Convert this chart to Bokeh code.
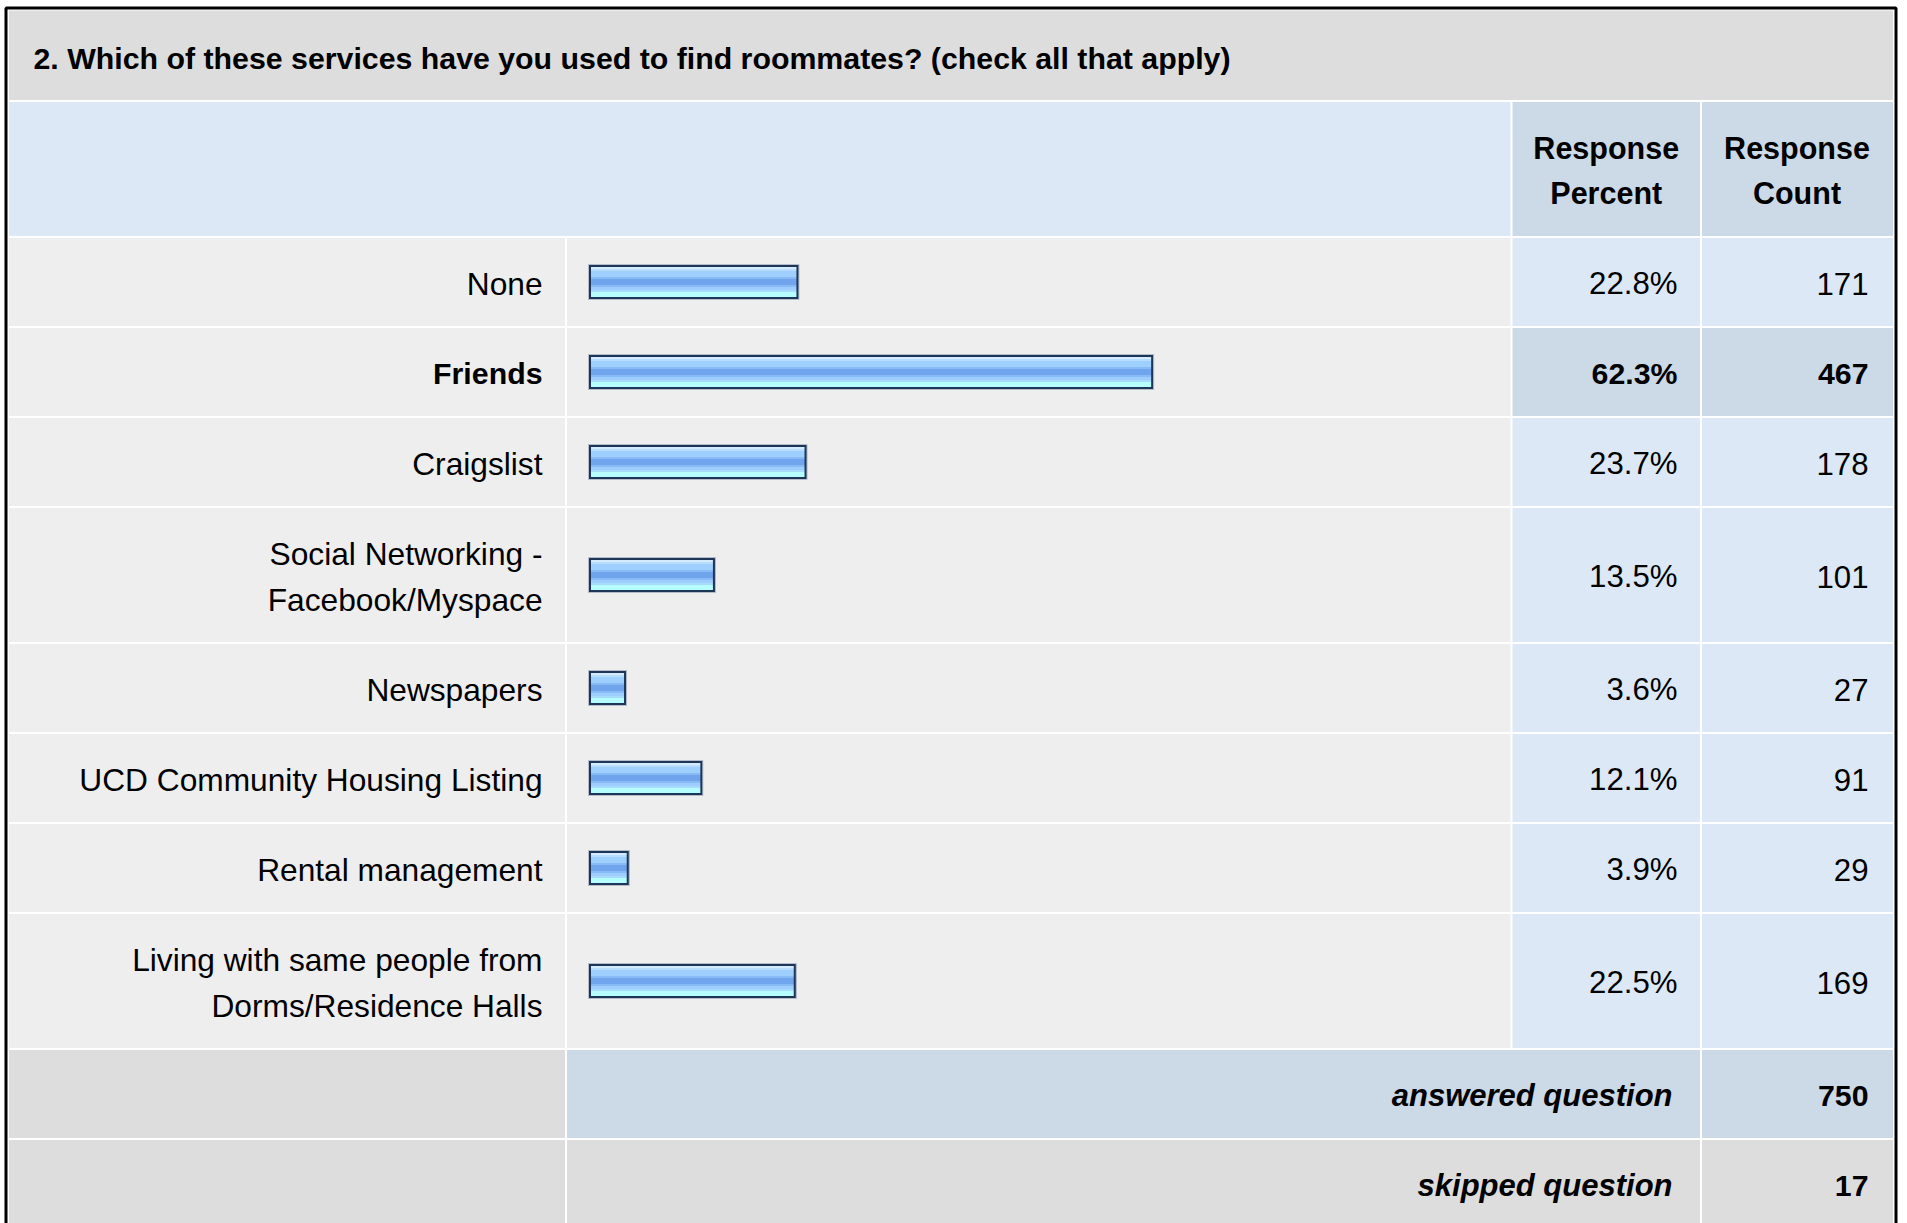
from bokeh.plotting import figure
from bokeh.models import Range1d, ColumnDataSource
from bokeh.transform import dodge
from bokeh.core.properties import value
from bokeh.embed import file_html
from bokeh.resources import INLINE

# ---------------- data ----------------
title_text = "2. Which of these services have you used to find roommates? (check all that apply)"
header_labels = ["Response\nPercent", "Response\nCount"]
categories = [
    "None",
    "Friends",
    "Craigslist",
    "Social Networking -\nFacebook/Myspace",
    "Newspapers",
    "UCD Community Housing Listing",
    "Rental management",
    "Living with same people from\nDorms/Residence Halls",
]
percents = [22.8, 62.3, 23.7, 13.5, 3.6, 12.1, 3.9, 22.5]
counts = [171, 467, 178, 101, 27, 91, 29, 169]
summary_labels = ["answered question", "skipped question"]
summary_counts = [750, 17]

# ---------------- style ----------------
FONT = "Liberation Sans"
C_TITLE = "#dddddd"
C_HEAD = "#dce8f5"
C_HEAD2 = "#ccd9e6"
C_LABEL = "#eeeeee"
C_VAL = "#dce8f5"
C_VAL_HI = "#ccd9e6"
C_SUM = "#dddddd"

W, H = 1899, 1223
p = figure(width=W, height=H, x_range=Range1d(0, W), y_range=Range1d(H, 0),
           x_axis_type=None, y_axis_type=None, output_backend="svg",
           toolbar_location=None, min_border=0)
p.grid.visible = False
p.outline_line_color = None
p.background_fill_color = "white"
p.border_fill_color = "white"

PX_PER_PCT = 8.98
BAR_X0 = 588.0
p.extra_x_ranges = {"pct": Range1d((0 - BAR_X0) / PX_PER_PCT, (W - BAR_X0) / PX_PER_PCT)}

# layout
XL, XS1, XS2, XS3, XR = 8.5, 565.5, 1511, 1700.5, 1892.5
TITLE_TOP, TITLE_BOT = 10, 99.5
HEAD_TOP, HEAD_BOT = 101.5, 235.5
LINE_GAP = 46
MID_OFF = 1.5

n_lines = [len(c.split("\n")) for c in categories]
row_h = [136 if n > 1 else 90 for n in n_lines]
edges = [236.5]
for h in row_h:
    edges.append(edges[-1] + h)
sum_edges = [edges[-1]]
for _ in summary_labels:
    sum_edges.append(sum_edges[-1] + 90)
centers = [(edges[i] + edges[i + 1]) / 2 for i in range(len(categories))]
sum_centers = [(sum_edges[i] + sum_edges[i + 1]) / 2 for i in range(len(summary_labels))]
imax = percents.index(max(percents))

# ---------------- cells ----------------
L, R, T, B, C = [], [], [], [], []
def cell(l, r, t, b, c):
    L.append(l); R.append(r); T.append(t); B.append(b); C.append(c)

cell(XL, XR, TITLE_TOP, TITLE_BOT, C_TITLE)
cell(XL, XS2 - 1, HEAD_TOP, HEAD_BOT, C_HEAD)
cell(XS2 + 1, XS3 - 1, HEAD_TOP, HEAD_BOT, C_HEAD2)
cell(XS3 + 1, XR, HEAD_TOP, HEAD_BOT, C_HEAD2)
for i in range(len(categories)):
    t, b = edges[i] + 1, edges[i + 1] - 1
    vc = C_VAL_HI if i == imax else C_VAL
    cell(XL, XS1 - 1, t, b, C_LABEL)
    cell(XS1 + 1, XS2 - 1, t, b, C_LABEL)
    cell(XS2 + 1, XS3 - 1, t, b, vc)
    cell(XS3 + 1, XR, t, b, vc)
for i in range(len(summary_labels)):
    t, b = sum_edges[i] + 1, sum_edges[i + 1] - 1
    mc = C_HEAD2 if i == 0 else C_SUM
    cell(XL, XS1 - 1, t, b, C_SUM)
    cell(XS1 + 1, XS3 - 1, t, b, mc)
    cell(XS3 + 1, XR, t, b, mc)

p.quad(left=L, right=R, top=T, bottom=B, fill_color=C, line_color=None)

# outer frame
p.quad(left=[5.5], right=[1895.5], top=[7.5], bottom=[1400], fill_color=None,
       line_color="black", line_width=3)

# ---------------- bars ----------------
src = ColumnDataSource(dict(y=centers, pct=percents, zero=[0.0] * len(percents)))
END_PAD = 5.7 / PX_PER_PCT
p.hbar(y="y", left="zero", right=dodge("pct", END_PAD), height=35, source=src,
       fill_color="#1d3658", line_color="#b3bcc8", line_width=1, x_range_name="pct")
INS = 2.5 / PX_PER_PCT
stripes = [
    (0, 2, "#d4ebff"), (2, 4, "#b9ddff"), (4, 10, "#9ecfff"), (10, 12, "#88bbf5"),
    (12, 18, "#70a5ee"), (18, 20, "#88bbf5"), (20, 23, "#9dceff"), (23, 25, "#a8dcff"),
    (25, 30, "#b5fdff"),
]
for a, b_, col in stripes:
    off = -15 + (a + b_) / 2
    p.hbar(y=dodge("y", off), left=dodge("zero", INS), right=dodge("pct", END_PAD - INS),
           height=b_ - a, source=src, fill_color=col, line_color=None, x_range_name="pct")

# ---------------- texts ----------------
def lines_of(text, center, gap=LINE_GAP):
    parts = text.split("\n")
    n = len(parts)
    return [(part, center + (k - (n - 1) / 2) * gap + MID_OFF) for k, part in enumerate(parts)]

TXT = dict(text_font=value(FONT), text_baseline="middle", text_color="black")

# title
p.text(x=[33], y=[(TITLE_TOP + TITLE_BOT) / 2 + 3], text=[title_text], text_font_size="30.3px",
       text_font_style="bold", text_align="left", **TXT)

# headers
hx, hy, ht = [], [], []
head_center = (HEAD_TOP + HEAD_BOT) / 2
for lab, cx in zip(header_labels, [(XS2 + XS3) / 2, (XS3 + XR) / 2]):
    for part, yy in lines_of(lab, head_center, 45):
        hx.append(cx); hy.append(yy); ht.append(part)
p.text(x=hx, y=hy, text=ht, text_font_size="30.5px", text_font_style="bold",
       text_align="center", **TXT)

# category labels
lx, ly, lt, ls, lf = [], [], [], [], []
for i, cat in enumerate(categories):
    for part, yy in lines_of(cat, centers[i]):
        lx.append(542); ly.append(yy); lt.append(part)
        ls.append("bold" if i == imax else "normal")
        lf.append("30.3px" if i == imax else "31.7px")
p.text(x=lx, y=ly, text=lt, text_font_size=lf, text_font_style=ls, text_align="right", **TXT)

# values
vx, vy, vt, vs, vf = [], [], [], [], []
for i in range(len(categories)):
    st = "bold" if i == imax else "normal"
    fs = "30.3px" if i == imax else "31.2px"
    vx += [1677, 1868]
    vy += [centers[i] + MID_OFF] * 2
    vt += [f"{percents[i]:.1f}%", str(counts[i])]
    vs += [st, st]
    vf += [fs, fs]
p.text(x=vx, y=vy, text=vt, text_font_size=vf, text_font_style=vs, text_align="right", **TXT)

# summary
p.text(x=[1672] * len(summary_labels), y=[c + MID_OFF for c in sum_centers], text=summary_labels,
       text_font_size="31px", text_font_style="bold italic", text_align="right", **TXT)
p.text(x=[1868] * len(summary_counts), y=[c + MID_OFF for c in sum_centers],
       text=[str(v) for v in summary_counts], text_font_size="30.3px", text_font_style="bold",
       text_align="right", **TXT)

open("out.html", "w").write(file_html(p, INLINE))
